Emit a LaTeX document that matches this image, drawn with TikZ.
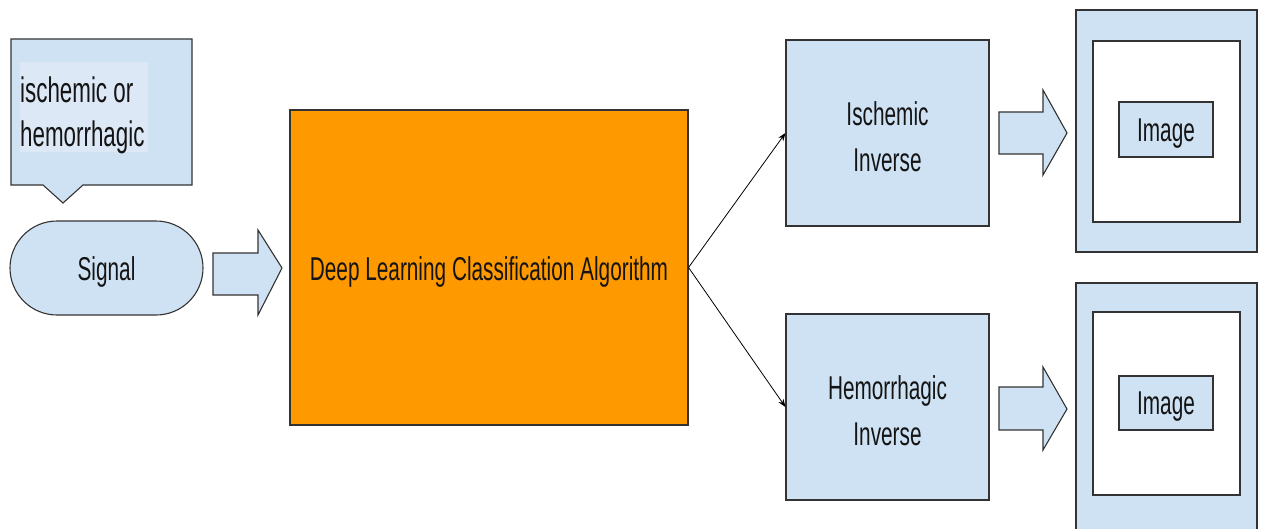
\documentclass[tikz,border=0pt]{standalone}
\usepackage{fontspec}
\setmainfont{Liberation Sans}[FakeStretch=0.63]
\usetikzlibrary{arrows.meta}
\definecolor{lblue}{HTML}{CFE2F3}
\definecolor{hblue}{HTML}{DCE8F6}
\definecolor{edge}{HTML}{333333}
\definecolor{orng}{HTML}{FF9900}
\definecolor{txt}{HTML}{141414}
\tikzset{
  box/.style={draw=edge, line width=1.1pt, fill=lblue},
  lbl/.style={text=txt, font=\fontsize{33}{46}\selectfont, align=center, inner sep=0pt},
  conn/.style={draw=black, line width=0.8pt, -{Stealth[length=8pt,width=6pt]}},
  fatarrow/.style={draw=edge, line width=1.1pt, fill=lblue, line join=miter}
}
\begin{document}
\begin{tikzpicture}[x=1pt,y=-1pt]
\useasboundingbox (0,0) rectangle (1266,528);
% callout
\draw[box] (11,39) -- (192,39) -- (192,185) -- (83,185) -- (63,203) -- (43,185) -- (11,185) -- cycle;
\fill[hblue] (20,62) rectangle (148,152);
\node[lbl, align=left, anchor=base west, font=\fontsize{35.5}{44}\selectfont] (call) at (20,146) {ischemic or\\hemorrhagic};
% signal
\node[box, rounded corners=47pt, minimum width=193pt, minimum height=94pt,
      label={[lbl, yshift=-4pt, name=sigt]center:Signal}] (sig) at (106.5,268) {};
% fat arrow 1
\draw[fatarrow] (213,253) -- (258,253) -- (258,230) -- (282,268) -- (258,315) -- (258,295) -- (213,295) -- cycle;
% orange
\node[draw=edge, line width=1.1pt, fill=orng, minimum width=398pt, minimum height=315pt,
      label={[lbl, yshift=-4pt, name=dlt]center:Deep Learning Classification Algorithm}] (dl) at (489,267.5) {};
% inverse boxes
\node[box, minimum width=203pt, minimum height=186pt,
      label={[lbl, yshift=-4pt, name=isct]center:Ischemic\\Inverse}] (isc) at (887.5,133) {};
\node[box, minimum width=203pt, minimum height=186pt,
      label={[lbl, yshift=-4pt, name=hemt]center:Hemorrhagic\\Inverse}] (hem) at (887.5,407) {};
\draw[conn] (dl.east) -- (isc.west);
\draw[conn] (dl.east) -- (hem.west);
% fat arrows 2,3
\draw[fatarrow] (999,112) -- (1043,112) -- (1043,90) -- (1067,133) -- (1043,175) -- (1043,154) -- (999,154) -- cycle;
\draw[fatarrow] (999,387) -- (1043,387) -- (1043,367) -- (1067,409) -- (1043,450) -- (1043,430) -- (999,430) -- cycle;
% image panels
\draw[box] (1076,10) rectangle (1257,252);
\draw[draw=edge, line width=1.1pt, fill=white] (1093,41) rectangle (1240,222);
\node[box, minimum width=94pt, minimum height=55pt,
      label={[lbl, yshift=-4pt, name=img1t]center:Image}] (img1) at (1166,129.5) {};
\draw[box] (1076,283) rectangle (1257,540);
\draw[draw=edge, line width=1.1pt, fill=white] (1093,312) rectangle (1240,495);
\node[box, minimum width=94pt, minimum height=54pt,
      label={[lbl, yshift=-4pt, name=img2t]center:Image}] (img2) at (1166,403) {};
\end{tikzpicture}
\end{document}
